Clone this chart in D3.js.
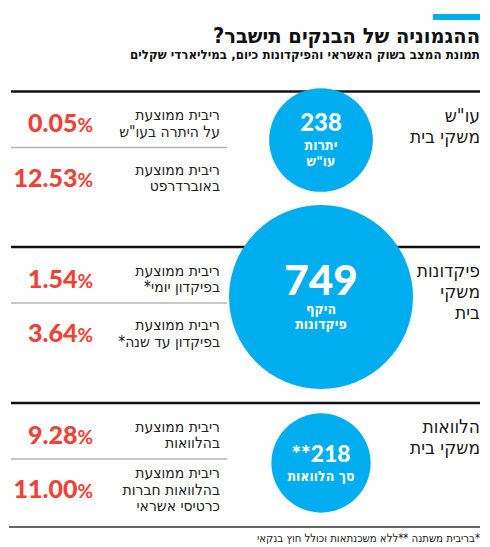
<!DOCTYPE html>
<html><head><meta charset="utf-8">
<script src="https://cdn.jsdelivr.net/npm/d3@7"></script>
<style>body{margin:0;background:#fff}svg{display:block}</style>
</head><body><svg id="c"></svg>
<script>
// ---- data ----
const title = "ההגמוניה של הבנקים תישבר?";
const subtitle = "תמונת המצב בשוק האשראי והפיקדונות כיום, במיליארדי שקלים";
const footnote = "*בריבית משתנה **ללא משכנתאות וכולל חוץ בנקאי";
const categories = [["עו\"ש","משקי בית"],["פיקדונות","משקי","בית"],["הלוואות","משקי בית"]];
const totals = [238, 749, 218];
const totalMarks = ["", "", "**"];
const totalNames = [["יתרות","עו\"ש"],["היקף","פיקדונות"],["סך הלוואות"]];
const rateNames = [
  [["ריבית ממוצעת","על היתרה בעו\"ש"],["ריבית ממוצעת","באוברדרפט"]],
  [["ריבית ממוצעת","בפיקדון יומי*"],["ריבית ממוצעת","בפיקדון עד שנה*"]],
  [["ריבית ממוצעת","בהלוואות"],["ריבית ממוצעת","בהלוואות חברות","כרטיסי אשראי"]]
];
const rates = [[0.05, 12.53],[1.54, 3.64],[9.28, 11.00]];

// ---- layout ----
const W = 490, H = 547, L = 11, R = 480;
const BLUE = "#00aeef", RED = "#ef4136";
const NARROW = "'Liberation Sans Narrow','DejaVu Sans Condensed','Liberation Sans',sans-serif";
const NUM = "Lato,'Open Sans',sans-serif";
const sectionTop = [91.5, 247, 403];
const bottomY = 527;
const circleCy = [140, 297, 463];
const cx = 321;
const rScale = d3.scaleSqrt().domain([0, 749]).range([0, 92]);
const rowCenter = [31.5, 86];
const sepOff = 56;

const svg = d3.select("#c").attr("width", W).attr("height", H);
svg.append("rect").attr("width", W).attr("height", H).attr("fill", "#fff");

// header
svg.append("rect").attr("x", 433).attr("y", 14).attr("width", 47).attr("height", 6).attr("fill", BLUE);
function rtlText(g, x, y, txt, size, weight, family, fill) {
  return g.append("text").attr("x", x).attr("y", y).attr("direction", "rtl")
    .attr("text-anchor", "start").attr("font-size", size).attr("font-weight", weight)
    .attr("font-family", family).attr("fill", fill || "#1a1a1a").text(txt);
}
function fitWidth(sel, w) {
  const n = sel.node(); const cur = n.getComputedTextLength();
  if (cur > 0) sel.attr("textLength", w).attr("lengthAdjust", "spacingAndGlyphs");
}
const t1 = rtlText(svg, R, 43, title, 21, "bold", NARROW, "#111");
fitWidth(t1, 267);
const t2 = rtlText(svg, R, 58.5, subtitle, 12.5, "bold", NARROW, "#111");
fitWidth(t2, 350);

// section lines
sectionTop.forEach(y => {
  svg.append("line").attr("x1", L).attr("x2", R).attr("y1", y).attr("y2", y)
    .attr("stroke", "#111").attr("stroke-width", 2.5);
});
svg.append("line").attr("x1", 9).attr("x2", R).attr("y1", bottomY).attr("y2", bottomY)
  .attr("stroke", "#333").attr("stroke-width", 1.5);

// sections
sectionTop.forEach((top, i) => {
  const g = svg.append("g");
  // category label
  categories[i].forEach((line, k) => {
    rtlText(g, R, top + 30 + k * 21, line, 19, "normal", NARROW, "#1a1a1a");
  });
  // separator
  g.append("line").attr("x1", L).attr("x2", 227).attr("y1", top + sepOff).attr("y2", top + sepOff)
    .attr("stroke", "#b5b5b5").attr("stroke-width", 1.5);
  // rows
  rates[i].forEach((v, j) => {
    const vc = top + rowCenter[j];
    const t = g.append("text").attr("x", 93).attr("y", vc + 9).attr("text-anchor", "end")
      .attr("font-family", NUM).attr("font-weight", 900).attr("font-size", 25).attr("fill", RED);
    t.append("tspan").text(d3.format(".2f")(v));
    t.append("tspan").attr("font-size", 19).attr("font-weight", 700).text("%");
    const names = rateNames[i][j];
    const lh = 16.5;
    const first = vc + 5.5 - (names.length - 1) * lh / 2;
    names.forEach((nm, k) => rtlText(g, 220, first + k * lh, nm, 15.5, "normal", NARROW, "#222"));
  });
  // circle
  const r = rScale(totals[i]);
  const cy = circleCy[i];
  g.append("circle").attr("cx", cx).attr("cy", cy).attr("r", r).attr("fill", BLUE);
  const numFs = r * 0.46, capN = numFs * 0.72, nameLH = 15.5, nameCap = 10;
  const nn = totalNames[i].length;
  const total = capN + 9 + nameCap + (nn - 1) * nameLH;
  const numBase = cy - total / 2 + capN;
  const nt = g.append("text").attr("x", cx).attr("y", numBase).attr("text-anchor", "middle")
    .attr("font-family", NUM).attr("font-weight", 900).attr("font-size", numFs).attr("fill", "#fff");
  if (totalMarks[i]) nt.append("tspan").text(totalMarks[i]);
  nt.append("tspan").text(totals[i]);
  totalNames[i].forEach((nm, k) => {
    g.append("text").attr("x", cx).attr("y", numBase + 9 + nameCap + k * nameLH)
      .attr("text-anchor", "middle").attr("direction", "rtl")
      .attr("font-family", NARROW).attr("font-weight", "bold").attr("font-size", 14)
      .attr("fill", "#fff").text(nm);
  });
});

// footnote
const fn = rtlText(svg, R, 542, footnote, 11.5, "normal", NARROW, "#222");
fitWidth(fn, 223);
</script></body></html>
